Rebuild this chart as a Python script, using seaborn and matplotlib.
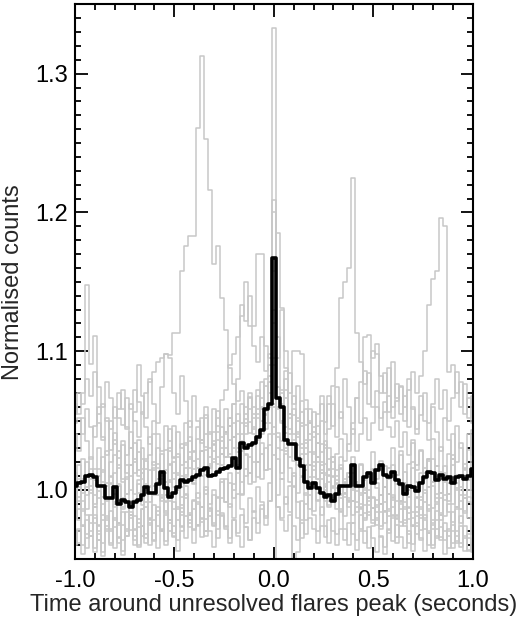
import numpy as np
import pandas as pd
import matplotlib
matplotlib.use("Agg")
import matplotlib.pyplot as plt
import seaborn as sns
from matplotlib.ticker import MultipleLocator, FormatStrFormatter

# bin centres: -1.0 ... 1.0 in steps of 0.02
time_centres = np.round(np.linspace(-1.0, 1.0, 101), 2)

# values are given as (counts - 1) * 1000
mean_profile = [
    3, 5, 6, 10, 11, 9, 3, 3, -6, -6,
    2, -10, -7, -9, -12, -9, -7, -4, 2, -2,
    -2, 4, 13, 1, -5, -2, 2, 7, 6, 7,
    9, 11, 14, 16, 10, 11, 13, 15, 16, 17,
    23, 16, 34, 30, 32, 34, 38, 43, 58, 62,
    167, 66, 60, 36, 33, 33, 22, 17, 6, 1,
    5, 1, -2, -5, -4, -8, -3, 3, 3, 3,
    18, 3, 3, 9, 12, 5, 14, 18, 11, 9,
    13, 7, 4, -3, 3, 2, -1, 5, 9, 13,
    12, 7, 11, 8, 9, 5, 9, 10, 8, 10, 15,
]

flare_01 = [
    48, 52, 40, 58, 45, 38, 55, 62, 50, 44,
    60, 52, 47, 66, 58, 72, 63, 55, 70, 78,
    85, 92, 95, 98, 97, 113, 113, 158, 176, 183,
    183, 261, 313, 253, 216, 163, 176, 138, 115, 88,
    76, 64, 71, 55, 49, 60, 52, 43, 57, 48,
    62, 41, 35, 28, 33, 21, 18, 26, 14, 9,
    17, 8, 12, 4, 11, 1, 7, -3, 5, -6,
    0, -9, -2, -11, -5, -13, -7, -16, -9, -19,
    -12, -21, -14, -24, -17, -26, -19, -29, -22, -31,
    -25, -33, -27, -36, -30, -38, -33, -41, -35, -43, -38,
]
flare_02 = [
    12, -5, 8, 20, 3, -10, 15, 6, -8, 10,
    25, 4, -12, 9, 18, -3, 7, 22, 0, -9,
    14, 30, 11, -4, 19, 8, 26, 2, 16, 35,
    21, 9, 28, 40, 17, 33, 24, 45, 30, 52,
    38, 27, 48, 60, 41, 55, 68, 50, 75, 62,
    333, 58, 70, 45, 52, 33, 40, 22, 36, 18,
    27, 8, 20, 3, 15, -6, 10, 24, -2, 12,
    -8, 6, 19, 1, -11, 14, 5, -4, 17, 9,
    -7, 11, 28, 4, -5, 16, 2, -12, 8, 21,
    3, -9, 13, 6, -3, 18, 0, 10, -6, 7, 15,
]
flare_03 = [
    -15, -22, -8, -18, -30, -12, -25, -5, -20, -28,
    -10, -24, -16, -33, -8, -19, -27, -14, -2, -21,
    -11, -26, -6, -17, -30, -9, -22, -13, 3, -18,
    -7, -25, -12, 2, -19, -4, -15, 8, -9, 5,
    -6, 12, -3, 15, 4, 20, 9, 26, 14, 32,
    45, 38, 29, 41, 24, 36, 50, 33, 47, 58,
    42, 55, 68, 49, 62, 75, 88, 138, 150, 160,
    225, 113, 92, 76, 84, 60, 71, 52, 63, 45,
    38, 50, 31, 42, 25, 36, 18, 29, 12, 22,
    6, 17, -2, 11, -8, 4, -12, 2, -15, -5, -10,
]
flare_04 = [
    -30, -38, -25, -42, -33, -20, -36, -45, -28, -40,
    -22, -35, -47, -30, -18, -33, -41, -26, -38, -24,
    -36, -15, -29, -40, -22, -31, -12, -26, -35, -18,
    -28, -9, -21, -33, -14, -25, -5, -18, -27, -10,
    -20, -3, -14, -24, -6, -16, 2, -9, -19, 5,
    25, -4, 8, -10, 3, 12, -2, 9, 18, 4,
    14, 24, 8, 19, 30, 15, 26, 37, 21, 33,
    44, 28, 40, 52, 36, 48, 60, 43, 56, 68,
    52, 64, 75, 60, 72, 85, 70, 82, 100, 133,
    152, 158, 196, 190, 85, 90, 70, 78, 55, 66, 48,
]
flare_05 = [
    62, 55, 70, 148, 91, 111, 48, 36, 52, 29,
    41, 23, 35, 18, 30, 12, 27, 8, 21, 3,
    16, -4, 10, -9, 6, -14, 2, -18, -3, -22,
    -8, -26, -12, -30, -15, -24, -35, -19, -28, -38,
    -22, -33, -41, -27, -36, -20, -31, -14, -25, -8,
    60, -12, -20, -5, -16, 3, -9, -22, -2, -14,
    6, -7, -18, 2, -11, 9, -4, -15, 5, -8,
    12, -1, -13, 7, -6, 15, 1, -10, 10, -3,
    18, 4, -8, 13, 0, 20, 6, -5, 16, 2,
    22, 9, -2, 17, 5, 25, 11, 0, 19, 7, 14,
]
flare_06 = [
    5, 18, -2, 10, 24, 7, -6, 13, 28, 9,
    -3, 16, 32, 12, 0, 20, 36, 15, 4, 25,
    40, 19, 8, 29, 44, 23, 11, 33, 48, 27,
    15, 37, 52, 31, 19, 42, 57, 35, 24, 46,
    62, 40, 28, 51, 67, 45, 72, 58, 80, 90,
    158, 185, 131, 100, 84, 62, 75, 48, 58, 36,
    45, 24, 33, 12, 22, 2, 14, -6, 8, -12,
    1, -16, -4, -20, -8, -24, -12, -28, -15, -31,
    -18, -34, -10, -26, -38, -20, -32, -14, -28, -40,
    -22, -35, -17, -30, -42, -25, -37, -19, -33, -44, -27,
]
flare_07 = [
    -20, -8, -26, -14, 0, -18, -30, -10, -22, 4,
    -12, -25, -6, 8, -16, -28, -2, 12, -9, -20,
    3, 16, -5, -15, 7, 20, 0, -11, 11, 24,
    5, -6, 15, 29, 10, 22, 36, 18, 40, 52,
    62, 80, 133, 122, 140, 118, 170, 170, 104, 95,
    209, 110, 72, 86, 55, 40, 52, 30, 18, 27,
    9, 20, -2, 11, -8, 3, -14, -4, -19, -9,
    -24, -12, -28, -17, -6, -22, -11, -26, -15, -3,
    -19, -8, -23, -12, 0, -16, -5, -20, -9, 2,
    -13, -3, -18, -7, 5, -10, 1, -14, -4, 8, -6,
]
flare_08 = [
    -35, -28, -40, -22, -33, -45, -26, -38, -19, -30,
    -42, -24, -36, -16, -29, -40, -21, -33, -12, -25,
    -37, -18, -30, -8, -22, -34, -14, -27, -4, -17,
    -29, -10, -23, 0, -13, -26, -6, 6, -9, 12,
    0, 18, 6, 25, 12, 32, 20, 40, 55, 78,
    200, 95, 130, 88, 70, 100, 100, 98, 65, 50,
    38, 46, 27, 35, 14, 24, 5, 16, -3, 9,
    -8, 3, -12, -2, -16, -6, -20, -10, -24, -14,
    -5, -18, -9, -22, -13, -26, -16, -7, -20, -11,
    -24, -15, -6, -19, -10, -23, -14, -4, -17, -9, -21,
]
flare_09 = [
    -10, 2, -15, -4, 8, -12, -1, -18, -6, 5,
    -9, 3, -14, -3, 10, -7, 4, -11, 1, 14,
    -4, 8, -8, 6, 18, 2, 12, -5, 9, 22,
    7, 16, 28, 11, 24, 35, 19, 30, 42, 26,
    38, 50, 33, 46, 58, 40, 55, 66, 48, 60,
    130, -60, -70, -65, -55, 10, -20, -35, -10, 5,
    -15, -2, 12, -8, 6, 20, 1, 15, -5, 9,
    24, 4, 18, -2, 13, 27, 8, 21, 2, 16,
    30, 11, 25, 5, 19, 34, 14, 28, 8, 22,
    37, 17, 31, 12, 26, 40, 20, 34, 15, 29, 43,
]
flare_10 = [
    40, 28, 52, 35, 22, 46, 60, 38, 25, 50,
    33, 58, 72, 45, 30, 56, 90, 68, 52, 80,
    62, 48, 74, 98, 95, 70, 55, 82, 64, 45,
    68, 50, 36, 60, 42, 28, 52, 38, 24, 46,
    30, 18, 40, 26, 12, 34, 20, 8, 30, 15,
    120, 22, 8, 30, 16, 2, 24, 10, -4, 18,
    5, -8, 14, 0, -12, 10, -3, -16, 6, -7,
    -18, 4, -10, -22, 0, -13, -25, -4, -16, 8,
    -6, -19, 3, -9, -21, 1, -12, 12, -2, -15,
    6, -6, -18, 10, -3, 22, 5, -8, 14, 0, 30,
]
flare_11 = [
    -5, 8, 22, 10, -2, 15, 30, 14, 3, 20,
    36, 18, 6, 25, 42, 22, 10, 30, 15, 2,
    20, 8, -4, 14, 28, 12, 0, 18, 34, 16,
    4, 22, 10, -3, 16, 32, 14, 26, 42, 24,
    38, 55, 35, 48, 66, 44, 58, 78, 54, 70,
    90, 60, 48, 66, 40, 54, 32, 46, 26, 40,
    20, 34, 50, 30, 44, 62, 38, 56, 40, 28,
    48, 66, 78, 110, 112, 95, 105, 82, 70, 88,
    60, 76, 55, 68, 45, 60, 40, 54, 70, 48,
    62, 80, 58, 72, 50, 66, 85, 60, 76, 52, 68,
]
flare_12 = [
    -20, -14, -26, -32, -18, -24, -36, -22, -30, -15,
    -27, -38, -25, -33, -20, -29, -40, -26, -35, -22,
    -31, -42, -28, -37, -24, -33, -44, -30, -19, -27,
    -38, -25, -34, -21, -30, -41, -28, -17, -26, -35,
    -22, -31, -18, -27, -36, -15, -24, -11, -20, -8,
    40, -12, -22, -30, -18, -26, -36, -24, -32, -20,
    -28, -38, -26, -34, -22, -30, -40, -28, -36, -24,
    -32, -43, -30, -38, -27, -35, -45, -33, -41, -29,
    -37, -25, -34, -42, -30, -39, -26, -35, -44, -31,
    -40, -28, -36, -24, -33, -42, -30, -38, -26, -35, -45,
]
flare_13 = [
    55, 70, 62, 80, 68, 85, 74, 60, 78, 66,
    52, 70, 58, 44, 62, 50, 38, 56, 45, 33,
    50, 40, 28, 46, 35, 24, 42, 30, 20, 38,
    27, 45, 34, 52, 40, 58, 46, 65, 72, 90,
    98, 110, 125, 150, 118, 104, 92, 110, 86, 98,
    120, 74, 62, 80, 55, 68, 42, 56, 34, 48,
    26, 40, 18, 32, 10, 24, 4, 18, -2, 12,
    -8, 6, -14, 0, -18, -5, -22, -10, 2, -15,
    -4, -20, -8, 5, -12, -25, -6, -18, 0, -14,
    -28, -10, -22, -4, -16, -30, -12, -24, -6, -20, -32,
]
flare_14 = [
    -8, 6, -14, 2, 15, -4, 10, 24, 5, -6,
    12, 28, 8, -3, 18, 34, 14, 2, 22, 38,
    18, 6, 26, 12, 30, 46, 24, 10, 32, 50,
    28, 16, 36, 54, 30, 20, 42, 26, 58, 36,
    48, 30, 62, 40, 70, 52, 36, 60, 44, 82,
    95, 66, 50, 72, 44, 58, 38, 64, 30, 48,
    56, 34, 62, 40, 68, 46, 74, 52, 80, 60,
    40, 66, 48, 86, 62, 100, 98, 70, 84, 56,
    92, 66, 74, 50, 80, 58, 44, 68, 50, 36,
    60, 42, 28, 52, 36, 22, 46, 30, 16, 40, 25,
]
flare_15 = [
    -40, -30, -46, -35, -24, -42, -32, -48, -26, -38,
    -20, -34, -44, -28, -18, -36, -24, -14, -32, -40,
    -22, -12, -30, -18, -8, -26, -36, -16, -6, -24,
    -14, -2, -20, -30, -10, 0, -18, -6, 8, -12,
    4, 16, -4, 10, 24, 6, 20, 34, 14, 40,
    130, 30, 12, 26, 6, -50, -45, -8, -22, -4,
    -18, -30, -12, -26, -38, -20, -32, -14, -28, -40,
    -24, -36, -18, -30, -42, -26, -16, -34, -46, -28,
    -20, -38, -26, -14, -32, -44, -24, -36, -18, -30,
    -42, -22, -34, -46, -28, -16, -38, -26, -44, -32, -20,
]

flares = [flare_01, flare_02, flare_03, flare_04, flare_05, flare_06,
          flare_07, flare_08, flare_09, flare_10, flare_11, flare_12,
          flare_13, flare_14, flare_15]


def to_counts(vals):
    return 1.0 + np.asarray(vals, dtype=float) / 1000.0


sns.set_style("white")
plt.rcParams["font.family"] = ["Liberation Sans", "DejaVu Sans"]
plt.rcParams["axes.unicode_minus"] = False

fig = plt.figure(figsize=(5.2, 6.2), dpi=100)
ax = fig.add_axes([0.144, 0.098, 0.765, 0.895])

for vals in flares:
    sns.lineplot(x=time_centres, y=to_counts(vals), ax=ax, color="#c8c8c8",
                 linewidth=1.1, drawstyle="steps-mid", estimator=None)

sns.lineplot(x=time_centres, y=to_counts(mean_profile), ax=ax, color="black",
             linewidth=2.6, drawstyle="steps-mid", estimator=None)

ax.set_xlim(-1.0, 1.0)
ax.set_ylim(0.95, 1.35)

ax.xaxis.set_major_locator(MultipleLocator(0.5))
ax.xaxis.set_minor_locator(MultipleLocator(0.1))
ax.yaxis.set_major_locator(MultipleLocator(0.1))
ax.yaxis.set_minor_locator(MultipleLocator(0.01))
ax.xaxis.set_major_formatter(FormatStrFormatter("%.1f"))
ax.yaxis.set_major_formatter(FormatStrFormatter("%.1f"))

ax.tick_params(which="both", direction="in", top=True, right=True,
               bottom=True, left=True, width=1.3, colors="black")
ax.tick_params(which="major", length=9, labelsize=17)
ax.tick_params(which="minor", length=4.5)
ax.tick_params(axis="x", which="major", pad=8)
ax.tick_params(axis="y", which="major", pad=5)

for sp in ax.spines.values():
    sp.set_linewidth(1.5)
    sp.set_color("black")

ax.set_xlabel("Time around unresolved flares peak (seconds)", fontsize=17, labelpad=1)
ax.set_ylabel("Normalised counts", fontsize=17, labelpad=8)

fig.savefig("out.png", dpi=100)
